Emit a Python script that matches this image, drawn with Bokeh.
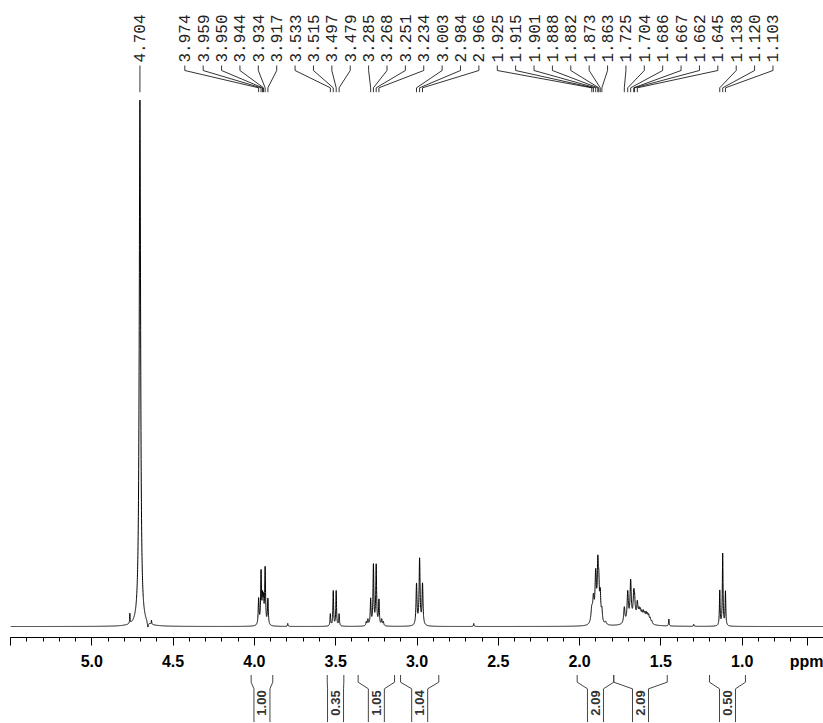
import numpy as np
from bokeh.plotting import figure
from bokeh.models import Range1d, FixedTicker, PrintfTickFormatter, ColumnDataSource
from bokeh.layouts import column
from bokeh.embed import file_html
from bokeh.resources import INLINE
from bokeh.core.properties import value

# ---------------- data ----------------
# line list: position (ppm), height (intensity, a.u.), half width (ppm)
peak_ppm = [4.766, 4.704, 4.655, 4.633, 3.795,
            3.974, 3.959, 3.950, 3.944, 3.934, 3.917,
            3.533, 3.515, 3.497, 3.479,
            3.312, 3.302, 3.285, 3.268, 3.251, 3.234, 3.217, 3.207,
            3.003, 2.984, 2.966, 2.651,
            1.925, 1.915, 1.901, 1.888, 1.882, 1.873, 1.863, 1.840,
            1.725, 1.704, 1.686, 1.667, 1.662, 1.645,
            1.634, 1.626, 1.617, 1.608, 1.600, 1.591, 1.583, 1.575, 1.566, 1.556, 1.640,
            1.451, 1.298,
            1.138, 1.120, 1.103]
peak_height = [10, 527, -6, 4, 3,
               26, 52, 24, 22, 56, 26,
               12, 35, 35, 12,
               4, 6, 26, 60, 60, 25, 6, 4,
               41, 66, 41, 3,
               14, 22, 48, 52, 32, 26, 12, 3,
               16, 30, 40, 22, 16, 16,
               8, 8, 7, 8, 7, 8, 7, 7, 5, 3, 6,
               7, 2,
               35, 72, 34]
peak_hwhm = [0.0015, 0.005, 0.004, 0.0015, 0.002,
             0.003, 0.003, 0.003, 0.003, 0.003, 0.003,
             0.0025, 0.0025, 0.0025, 0.0025,
             0.003, 0.003, 0.003, 0.003, 0.003, 0.003, 0.003, 0.003,
             0.0035, 0.0035, 0.0035, 0.002,
             0.006, 0.005, 0.005, 0.004, 0.004, 0.004, 0.004, 0.006,
             0.0045, 0.0045, 0.0045, 0.0045, 0.0045, 0.0045,
             0.004, 0.004, 0.004, 0.004, 0.004, 0.004, 0.004, 0.004, 0.004, 0.004, 0.05,
             0.002, 0.002,
             0.0025, 0.0025, 0.0025]

# picked peaks (labels at the top)
picked_ppm = [4.704,
              3.974, 3.959, 3.950, 3.944, 3.934, 3.917,
              3.533, 3.515, 3.497, 3.479,
              3.285, 3.268, 3.251, 3.234,
              3.003, 2.984, 2.966,
              1.925, 1.915, 1.901, 1.888, 1.882, 1.873, 1.863,
              1.725, 1.704, 1.686, 1.667, 1.662, 1.645,
              1.138, 1.120, 1.103]

# integrals
int_left = [4.020, 3.552, 3.362, 3.101, 2.015, 1.790, 1.201]
int_right = [3.887, 3.450, 3.138, 2.866, 1.790, 1.461, 0.980]
int_value = ["1.00", "0.35", "1.05", "1.04", "2.09", "2.09", "0.50"]

# axis ticks
major_ticks = [5.5, 5.0, 4.5, 4.0, 3.5, 3.0, 2.5, 2.0, 1.5, 1.0, 0.6]
tick_labels = {5.5: "", 0.6: "ppm"}

# ---------------- spectrum from the line list ----------------
ppm = np.linspace(5.5, 0.5, 12001)
intensity = np.zeros_like(ppm)
for c, h, g in zip(peak_ppm, peak_height, peak_hwhm):
    intensity += h * g * g / (g * g + (ppm - c) ** 2)

# ---------------- layout ----------------
PX_PER_PPM = 162.6
xr = Range1d(5.5, 0.5)

p1 = figure(width=823, height=674, x_range=xr, y_range=Range1d(-11, 626),
            output_backend="svg", toolbar_location=None,
            y_axis_location=None, x_axis_location="below",
            min_border_left=10, min_border_right=0, min_border_top=0, min_border_bottom=37)
p1.outline_line_color = None
p1.grid.visible = False
p1.background_fill_color = "white"
p1.border_fill_color = "white"

p1.line(ppm, intensity, line_color="black", line_width=1)

ax = p1.xaxis[0]
minor = [round(5.5 - 0.1 * i, 1) for i in range(51)]
ax.ticker = FixedTicker(ticks=major_ticks, minor_ticks=minor)
ax.formatter = PrintfTickFormatter(format="%.1f")
ax.major_label_overrides = tick_labels
ax.axis_line_color = "black"
ax.major_tick_line_color = "black"
ax.minor_tick_line_color = "black"
ax.major_tick_out = 8
ax.major_tick_in = 0
ax.minor_tick_out = 4
ax.minor_tick_in = 0
ax.major_label_standoff = 7
ax.major_label_text_font = "Liberation Sans"
ax.major_label_text_font_style = "bold"
ax.major_label_text_font_size = "16px"
ax.major_label_text_color = "black"

# peak labels
label_x0 = 4.428
label_dx = 18.38 / PX_PER_PPM
label_x = [picked_ppm[0]] + [label_x0 - label_dx * i for i in range(len(picked_ppm) - 1)]
Y_TEXT, Y_TOP, Y_KNEE, Y_DIAG, Y_BOT = 564, 561, 556, 538.7, 534.3
xs, ys = [], []
for lx, pk in zip(label_x, picked_ppm):
    xs.append([lx, lx, pk, pk])
    ys.append([Y_TOP, Y_KNEE, Y_DIAG, Y_BOT])
p1.multi_line(xs, ys, line_color="black", line_width=0.8)
lab_src = ColumnDataSource(dict(x=label_x, y=[Y_TEXT] * len(label_x),
                                t=["%.3f" % v for v in picked_ppm]))
p1.text(x="x", y="y", text="t", source=lab_src, angle=np.pi / 2,
        text_align="left", text_baseline="middle", text_font=value("Liberation Mono"),
        text_font_size="16px", text_color="#222222")

# integrals
p2 = figure(width=823, height=48, x_range=xr, y_range=Range1d(722, 674),
            output_backend="svg", toolbar_location=None,
            x_axis_location=None, y_axis_location=None,
            min_border_left=10, min_border_right=0, min_border_top=0, min_border_bottom=0)
p2.outline_line_color = None
p2.grid.visible = False
I_TOP, I_KNEE, I_IN, I_BOT = 674.5, 681.7, 688.3, 722
hw = 8.0 / PX_PER_PPM
bx, by, cx = [], [], []
for L, R in zip(int_left, int_right):
    c = 0.5 * (L + R)
    cx.append(c)
    if (L - R) / 2 <= hw:
        li, ri = L, R
    else:
        li, ri = c + hw, c - hw
    bx.append([L, L, li, li]); by.append([I_TOP, I_KNEE, I_IN, I_BOT])
    bx.append([R, R, ri, ri]); by.append([I_TOP, I_KNEE, I_IN, I_BOT])
p2.multi_line(bx, by, line_color="#444444", line_width=1)
int_src = ColumnDataSource(dict(x=cx, y=[702.5] * len(cx), t=int_value))
p2.text(x="x", y="y", text="t", source=int_src, angle=np.pi / 2,
        text_align="center", text_baseline="middle", text_font=value("Liberation Sans"),
        text_font_style="bold", text_font_size="13px", text_color="#333333")

layout = column(p1, p2, spacing=0)
open("out.html", "w").write(file_html(layout, INLINE))
